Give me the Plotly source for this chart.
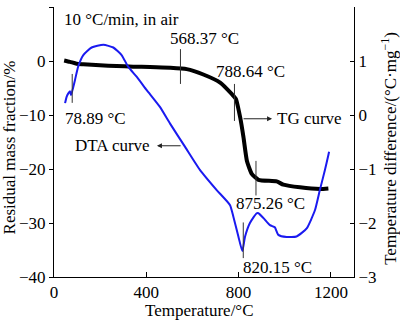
import plotly.graph_objects as go

# TG curve (temperature in °C, residual mass fraction in %)
tg_temp = [44, 69, 98, 127, 199, 271, 343, 416, 503, 575, 647, 720, 770, 788, 807, 821, 836, 857, 886, 965, 994, 1066, 1153, 1189]
tg_mass = [0.1, -0.15, -0.5, -0.6, -0.8, -0.93, -1.05, -1.1, -1.24, -1.5, -2.5, -4.0, -6.1, -7.0, -10.5, -14.1, -18.5, -20.9, -22.0, -22.3, -22.9, -23.4, -23.7, -23.6]

# DTA curve (temperature in °C, temperature difference in °C/mg)
dta_temp = [48, 55, 62, 69, 74, 91, 105, 127, 163, 214, 257, 293, 322, 358, 402, 459, 503, 568, 633, 705, 763, 777, 799, 816, 828, 849, 878, 886, 908, 936, 957, 972, 1008, 1051, 1095, 1131, 1152, 1174, 1189, 1192]
dta_diff = [0.22, 0.34, 0.40, 0.44, 0.37, 0.65, 0.90, 1.11, 1.25, 1.30, 1.25, 1.11, 0.89, 0.71, 0.46, 0.15, -0.16, -0.59, -1.02, -1.39, -1.67, -1.88, -2.25, -2.52, -2.25, -2.00, -1.82, -1.82, -1.91, -2.04, -2.08, -2.22, -2.26, -2.25, -2.10, -1.76, -1.39, -1.02, -0.74, -0.68]

x_ticks = [0, 400, 800, 1200]
y1_ticks = [10, 0, -10, -20, -30, -40]
y2_ticks = [2, 1, 0, -1, -2, -3]

# characteristic temperatures: label, marker line x, line y-range (left axis), label position
peak_labels = [78.89, 568.37, 788.64, 875.26, 820.15]
peak_line_x = [78.89, 548, 782, 875.26, 820.15]
peak_line_y0 = [-2.4, 2.2, -4.25, -18.5, -29.9]
peak_line_y1 = [-7.75, -4.25, -11.1, -24.9, -36.5]
peak_text_x = [39, 650, 851, 940, 810]
peak_text_y = [-10.7, 4.2, -2.0, -26.4, -38.2]
peak_text_anchor = ["left", "center", "center", "center", "left"]

FONT = "Liberation Serif, Times New Roman, serif"
FS = 17

fig = go.Figure()
fig.add_trace(go.Scatter(x=tg_temp, y=tg_mass, mode="lines",
                         line=dict(color="black", width=4, shape="spline", smoothing=0.5),
                         yaxis="y", showlegend=False))
fig.add_trace(go.Scatter(x=dta_temp, y=dta_diff, mode="lines",
                         line=dict(color="#1a1af0", width=2, shape="spline", smoothing=0.5),
                         yaxis="y2", showlegend=False))

shapes = []
annotations = []
for lx, y0, y1 in zip(peak_line_x, peak_line_y0, peak_line_y1):
    shapes.append(dict(type="line", xref="x", yref="y", x0=lx, x1=lx, y0=y0, y1=y1,
                       line=dict(color="#333333", width=1)))
for lab, tx, ty, anc in zip(peak_labels, peak_text_x, peak_text_y, peak_text_anchor):
    annotations.append(dict(text=f"{lab:.2f} °C", x=tx, y=ty, xref="x", yref="y",
                            xanchor=anc, yanchor="middle", showarrow=False,
                            font=dict(family=FONT, size=FS, color="black")))

annotations.append(dict(text="10 °C/min, in air", x=35, y=7.75, xref="x", yref="y",
                        xanchor="left", yanchor="middle", showarrow=False,
                        font=dict(family=FONT, size=FS, color="black")))
# TG curve arrow + text
annotations.append(dict(text="", x=945, y=-10.7, ax=815, ay=-10.7, xref="x", yref="y",
                        axref="x", ayref="y", showarrow=True, arrowhead=2, arrowsize=1,
                        arrowwidth=1, arrowcolor="#222222"))
annotations.append(dict(text="TG curve", x=958, y=-10.7, xref="x", yref="y",
                        xanchor="left", yanchor="middle", showarrow=False,
                        font=dict(family=FONT, size=FS, color="black")))
# DTA curve arrow + text
annotations.append(dict(text="", x=446, y=-15.7, ax=555, ay=-15.7, xref="x", yref="y",
                        axref="x", ayref="y", showarrow=True, arrowhead=2, arrowsize=1,
                        arrowwidth=1, arrowcolor="#222222"))
annotations.append(dict(text="DTA curve", x=425, y=-15.7, xref="x", yref="y",
                        xanchor="right", yanchor="middle", showarrow=False,
                        font=dict(family=FONT, size=FS, color="black")))

# axis titles
annotations.append(dict(text="Residual mass fraction/%", x=-0.15, y=0.48, xref="paper", yref="paper",
                        textangle=-90, xanchor="center", yanchor="middle", showarrow=False,
                        font=dict(family=FONT, size=FS, color="black")))
annotations.append(dict(text="Temperature difference/(°C·mg<sup>−1</sup>)", x=1.117, y=0.475,
                        xref="paper", yref="paper", textangle=-90, xanchor="center",
                        yanchor="middle", showarrow=False,
                        font=dict(family=FONT, size=FS, color="black")))
annotations.append(dict(text="Temperature/°C", x=0.485, y=-0.125, xref="paper", yref="paper",
                        xanchor="center", yanchor="middle", showarrow=False,
                        font=dict(family=FONT, size=FS, color="black")))

axis_common = dict(showline=True, linecolor="black", linewidth=1, showgrid=False,
                   zeroline=False, tickcolor="black", tickwidth=1,
                   tickfont=dict(family=FONT, size=FS, color="black"))

fig.update_layout(
    width=400, height=321,
    margin=dict(l=54, r=46, t=7, b=44),
    paper_bgcolor="white", plot_bgcolor="white",
    font=dict(family=FONT, size=FS, color="black"),
    xaxis=dict(range=[0, 1300], tickvals=x_ticks, ticks="inside", ticklen=5, **axis_common),
    yaxis=dict(range=[-40, 10], tickvals=y1_ticks, ticks="outside", ticklen=4, **axis_common),
    yaxis2=dict(range=[-3, 2], tickvals=y2_ticks, ticks="inside", ticklen=4, overlaying="y",
                side="right", anchor="x", **axis_common),
    shapes=shapes,
    annotations=annotations,
    showlegend=False,
)

fig.write_html("out.html")
